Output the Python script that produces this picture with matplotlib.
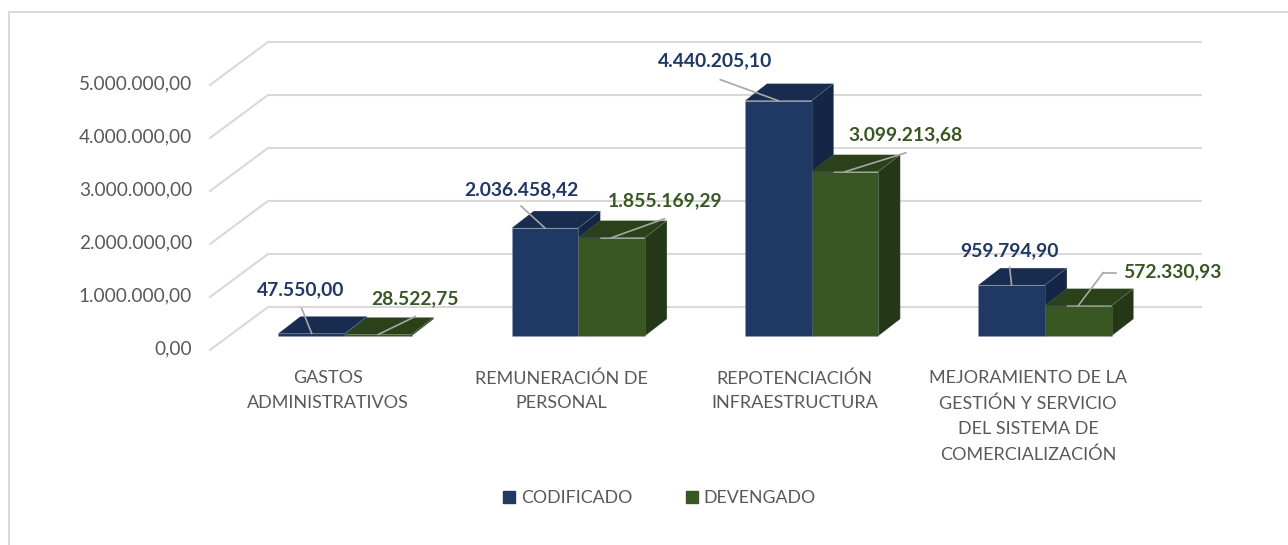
import matplotlib
matplotlib.use('Agg')
import matplotlib.pyplot as plt
from matplotlib.lines import Line2D
from matplotlib.patches import Polygon, Rectangle

plt.rcParams['font.family'] = ['Lato', 'DejaVu Sans']

# Data
categories = ['GASTOS\nADMINISTRATIVOS', 'REMUNERACIÓN DE\nPERSONAL', 'REPOTENCIACIÓN\nINFRAESTRUCTURA',
              'MEJORAMIENTO DE LA\nGESTIÓN Y SERVICIO\nDEL SISTEMA DE\nCOMERCIALIZACIÓN']
codificado = [47550.00, 2036458.42, 4440205.10, 959794.90]
devengado = [28522.75, 1855169.29, 3099213.68, 572330.93]
codificado_labels = ['47.550,00', '2.036.458,42', '4.440.205,10', '959.794,90']
devengado_labels = ['28.522,75', '1.855.169,29', '3.099.213,68', '572.330,93']
y_ticks = [0, 1000000, 2000000, 3000000, 4000000, 5000000]
y_tick_labels = ['0,00', '1.000.000,00', '2.000.000,00', '3.000.000,00', '4.000.000,00', '5.000.000,00']

# Colours
navy, navy_top, navy_side = '#1f3864', '#182c50', '#142545'
green, green_top, green_side = '#385723', '#2a4119', '#243717'
grid_col = '#d9d9d9'
text_col = '#595959'
leader_col = '#a6a6a6'
edge_col = (0.6, 0.62, 0.66, 0.25)

# One category step is 233.3 px, one million is 53 px
W, H = 1288, 545
px_x = 1 / 233.3
px_y = 1e6 / 53
bar_w = 66.6 * px_x
depth_x = 22 * px_x
depth_y = 17 * px_y

fig = plt.figure(figsize=(W / 100, H / 100), dpi=100)
ax = fig.add_axes([0, 0, 1, 1])
ax.set_xlim(-345 * px_x, (W - 345) * px_x)
ax.set_ylim(-(H - 336) * px_y, 336 * px_y)
ax.axis('off')

# Outer frame: only the left and top sides show
fig.add_artist(Line2D([9 / W, 9 / W, 1], [0, 1 - 12 / H, 1 - 12 / H], transform=fig.transFigure,
                      color=grid_col, lw=1.4))

# Back wall lines and floor diagonals
wall_left = -77 * px_x
wall_right = 856 * px_x
front_left = -135 * px_x
for v, lab in zip(y_ticks, y_tick_labels):
    back = v + 29 * px_y
    front = v - 14 * px_y
    ax.plot([front_left, wall_left, wall_right], [front, back, back], color=grid_col, lw=1.5, zorder=1)
    ax.text(-153 * px_x, front + 1.5 * px_y, lab, ha='right', va='center', fontsize=13.7, color=text_col)


def draw_bar(x, v, front, top, side):
    x0, x1 = x, x + bar_w
    ax.add_patch(Polygon([(x0, v), (x1, v), (x1 + depth_x, v + depth_y), (x0 + depth_x, v + depth_y)],
                         facecolor=top, edgecolor=edge_col, lw=0.5, zorder=3))
    ax.add_patch(Polygon([(x1, 0), (x1 + depth_x, depth_y), (x1 + depth_x, v + depth_y), (x1, v)],
                         facecolor=side, edgecolor=edge_col, lw=0.5, zorder=3))
    ax.bar(x0, v, bar_w, align='edge', color=front, edgecolor=edge_col, lw=0.5, zorder=3)


# Label positions relative to the front top centre of each bar, in px
cod_text = [(-11, 42), (-24, 37), (-63, 38), (-2, 33)]
cod_line = [(-10, 25), (-24, 22), (-58, 21), (-2, 18)]
dev_text = [(37, 34), (53, 35), (61, 35), (94, 32)]
dev_line = [(37, 18), (53, 19), (61, 19), (25, 33)]


def draw_label(xc, v, lab, text_off, line_off, col):
    ax.plot([xc, xc + line_off[0] * px_x], [v, v + line_off[1] * px_y], color=leader_col, lw=1.2, zorder=4)
    ax.text(xc + text_off[0] * px_x, v + (text_off[1] + 1.5) * px_y, lab, ha='center', va='center',
            fontsize=13.9, fontweight='bold', color=col, zorder=5)


# Codificado is drawn first so the green bar sits over its side
for i in range(len(categories)):
    draw_bar(i - bar_w, codificado[i], navy, navy_top, navy_side)
    draw_bar(i, devengado[i], green, green_top, green_side)
    draw_label(i - bar_w / 2, codificado[i], codificado_labels[i], cod_text[i], cod_line[i], navy)
    draw_label(i + bar_w / 2, devengado[i], devengado_labels[i], dev_text[i], dev_line[i], green)
    ax.text(i - 17 * px_x, -34 * px_y, categories[i], ha='center', va='top', fontsize=13,
            color=text_col, linespacing=1.69)

# Little horizontal end of the last leader line
last = len(categories) - 1
ax.plot([last + bar_w / 2 + 25 * px_x, last + bar_w / 2 + 38 * px_x],
        [devengado[last] + 33 * px_y] * 2, color=leader_col, lw=1.2, zorder=4)

handles = [Rectangle((0, 0), 1, 1, color=navy), Rectangle((0, 0), 1, 1, color=green)]
ax.legend(handles, ['CODIFICADO', 'DEVENGADO'], loc='center', bbox_to_anchor=(659.5 / W, 1 - 498 / H),
          ncol=2, frameon=False, fontsize=12.8, labelcolor=text_col, handlelength=0.67, handleheight=0.67,
          handletextpad=0.34, columnspacing=3.0)

fig.savefig('out.png', dpi=100)
